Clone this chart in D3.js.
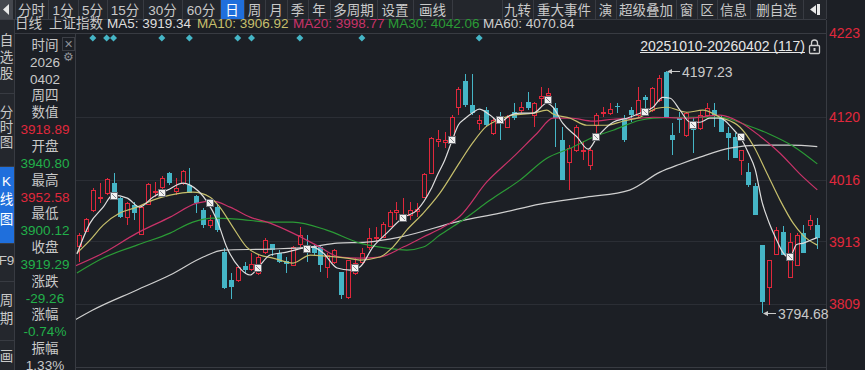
<!DOCTYPE html>
<html><head><meta charset="utf-8">
<script src="https://cdn.jsdelivr.net/npm/d3@7"></script>
<style>
html,body{margin:0;padding:0;background:#1c1f25;overflow:hidden;}
svg{display:block;}
text{font-family:"Liberation Sans","Noto Sans CJK SC",sans-serif;}
</style></head><body>
<svg id="c" width="865" height="370"></svg>
<script>
// ---------------- DATA ----------------
const opens = [3905.3,3930.3,3965.1,3986.0,3993.4,4010.0,3985.1,3953.5,3973.5,3925.3,
3975.1,3996.0,4003.3,4026.6,3996.7,4010.0,4006.7,3988.4,3965.1,3940.2,
3970.1,3895.4,3848.9,3848.9,3872.1,3867.1,3860.5,3895.4,3908.7,3893.7,
3880.4,3873.8,3908.7,3907.0,3903.7,3903.7,3870.5,3878.8,3862.2,3820.6,
3860.5,3878.8,3903.7,3919.5,3920.3,3938.6,3961.8,3951.9,3956.8,3963.5,
3986.7,4026.6,4079.8,4078.1,4081.4,4136.2,4179.4,4139.6,4109.7,4131.3,
4093.0,4116.3,4103.0,4127.9,4131.3,4144.5,4123.0,4151.2,4156.2,4134.6,
4081.4,4044.9,4064.8,4063.0,4039.9,4106.3,4127.5,4126.3,4137.9,4118.0,
4131.3,4123.0,4152.8,4131.3,4147.9,4194.4,4089.7,4118.0,4089.7,4111.3,
4101.4,4123.0,4131.3,4118.0,4093.0,4086.4,4048.2,4028.3,4005.0,3907.0,
3837.2,3892.1,3928.6,3853.9,3873.8,3926.9,3940.2,3940.80];
const highs = [3926.9,3951.9,4001.7,4010.0,4018.3,4026.6,3986.7,3978.4,3978.4,3973.5,
4010.0,4011.7,4021.6,4028.3,4018.3,4031.6,4034.9,3990.1,3968.5,3956.8,
3973.5,3902.0,3860.5,3872.1,3878.8,3893.7,3890.4,3918.6,3908.7,3898.7,
3887.1,3905.3,3936.9,3923.6,3907.0,3905.3,3893.7,3900.4,3862.2,3882.1,
3885.4,3902.0,3935.2,3936.9,3945.2,3965.1,3978.4,3985.1,3978.4,3976.8,
4026.6,4086.4,4098.0,4094.7,4123.0,4169.5,4191.1,4191.1,4123.0,4136.2,
4118.0,4127.9,4123.0,4142.9,4144.5,4161.2,4144.5,4169.5,4167.8,4142.9,
4103.0,4073.1,4106.3,4079.8,4069.8,4126.3,4136.2,4142.9,4142.9,4123.0,
4136.2,4169.5,4156.2,4169.5,4189.4,4197.23,4109.7,4127.9,4127.9,4119.6,
4131.3,4142.9,4142.9,4123.0,4103.0,4093.0,4064.8,4043.2,4010.0,3907.0,
3882.1,3936.9,3938.6,3926.9,3926.9,3940.2,3956.8,3952.58];
const lows = [3878.8,3928.6,3961.8,3976.8,3990.1,3981.8,3951.9,3940.2,3948.5,3923.6,
3973.5,3986.7,3998.4,4006.7,3990.1,4006.7,3993.4,3960.2,3935.2,3935.2,
3928.6,3833.9,3817.3,3845.5,3860.5,3863.8,3857.2,3892.1,3888.7,3877.1,
3860.5,3872.1,3903.7,3878.8,3890.4,3862.2,3852.2,3875.4,3817.3,3817.3,
3857.2,3873.8,3898.7,3912.0,3918.6,3936.9,3948.5,3945.2,3948.5,3953.5,
3985.1,4024.9,4069.8,4068.1,4078.1,4123.0,4136.2,4123.0,4098.0,4103.0,
4089.7,4081.4,4101.4,4114.6,4126.3,4131.3,4103.0,4136.2,4154.5,4069.8,
4015.0,3998.4,4061.0,4048.2,4031.6,4084.0,4119.6,4123.0,4126.3,4078.1,
4111.3,4119.6,4127.9,4127.9,4144.5,4118.0,4056.5,4093.0,4086.4,4059.8,
4098.0,4119.6,4103.0,4094.7,4048.2,4051.5,4023.3,4003.3,3956.8,3794.68,
3807.3,3890.4,3890.4,3852.2,3873.8,3893.7,3931.9,3900.12];
const closes = [3923.6,3950.2,3998.4,3987.0,4016.6,3985.1,3953.5,3976.8,3960.2,3970.1,
4008.3,3997.0,4018.3,4010.0,4001.7,4029.9,3993.4,3976.8,3940.2,3948.5,
3931.9,3835.6,3837.2,3870.5,3865.5,3875.4,3887.1,3915.3,3898.7,3878.8,
3875.4,3903.7,3923.6,3898.7,3893.7,3873.8,3890.4,3898.7,3824.0,3882.1,
3877.1,3893.7,3918.6,3920.3,3941.9,3961.8,3965.1,3956.8,3965.1,3966.8,
4024.9,4084.7,4083.1,4081.4,4119.6,4166.1,4139.6,4126.3,4114.6,4106.3,
4114.6,4111.3,4119.6,4118.0,4136.2,4134.6,4142.9,4154.5,4159.5,4118.0,
4015.0,4068.1,4103.0,4065.0,4064.8,4123.0,4128.5,4132.9,4136.2,4081.4,
4123.0,4147.9,4147.9,4167.8,4184.4,4118.0,4081.4,4114.6,4126.3,4098.0,
4123.0,4134.6,4123.0,4094.7,4084.7,4051.5,4064.8,4006.7,3956.8,3812.3,
3882.1,3931.9,3890.4,3912.0,3923.6,3893.7,3948.5,3919.29];

// moving averages: [bar index, value]
const ma5 = [[-0.3,3892.1],[1.6,3943.5],[3.5,3970.1],[4.9,3990.1],[7.0,3985.1],[8.8,3970.1],[10.7,3986.7],[12.8,3998.4],[15.1,4010.0],[16.1,4006.7],[18.6,3978.4],[20.0,3948.5],[21.4,3903.7],[23.3,3868.8],[24.8,3857.2],[25.9,3868.8],[27.7,3890.4],[30.1,3895.4],[32.5,3902.0],[33.9,3903.7],[35.4,3893.7],[37.4,3868.8],[39.3,3865.5],[40.7,3870.5],[42.6,3903.7],[44.6,3926.9],[46.9,3951.9],[49.0,3965.1],[51.0,3999.7],[52.0,4024.9],[53.0,4048.2],[54.0,4078.7],[55.0,4107.0],[56.0,4118.0],[57.0,4126.6],[58.0,4133.0],[59.6,4123.0],[61.0,4111.3],[62.5,4123.0],[63.9,4126.3],[65.8,4126.3],[67.8,4142.9],[68.7,4136.2],[70.1,4109.7],[72.2,4086.4],[73.8,4066.5],[75.1,4086.4],[77.4,4111.3],[79.4,4118.0],[81.3,4126.3],[83.2,4136.2],[84.6,4152.8],[85.7,4151.2],[87.1,4131.3],[88.6,4111.3],[90.0,4111.3],[91.4,4118.0],[92.9,4118.0],[94.8,4099.7],[96.0,4083.0],[97.0,4060.5],[98.0,4032.9],[99.0,3978.4],[100.0,3944.5],[101.0,3918.0],[102.0,3894.7],[103.0,3885.7],[104.0,3908.0],[105.0,3910.3],[106.0,3915.0],[107,3919.34]];
const ma10 = [[-0.3,3893.7],[1.6,3915.3],[3.5,3940.2],[5.9,3960.2],[8.4,3970.1],[10.7,3981.8],[13.2,3990.1],[16.5,3995.0],[19.0,3986.7],[20.4,3970.1],[22.3,3936.9],[24.3,3903.7],[26.2,3890.4],[28.1,3885.4],[31.0,3877.1],[33.5,3890.4],[35.9,3888.7],[38.8,3885.4],[40.7,3882.1],[43.6,3887.1],[45.5,3903.7],[47.5,3931.9],[49.9,3960.2],[52.3,3993.4],[55.2,4045.0],[57.0,4076.0],[59.0,4104.0],[60.6,4114.6],[62.9,4123.0],[65.8,4126.3],[67.8,4131.3],[68.7,4125.0],[71.2,4118.0],[73.6,4106.3],[76.5,4106.3],[78.8,4113.0],[81.3,4119.6],[83.8,4134.6],[85.2,4136.2],[88.1,4127.9],[90.4,4131.3],[92.9,4119.6],[95.8,4103.0],[97.7,4073.1],[99.7,4026.6],[101.6,3981.8],[103.5,3943.5],[104.9,3923.6],[107,3906.92]];
const ma20 = [[-0.6,3872.1],[3.5,3893.7],[8.4,3926.9],[13.2,3953.5],[17.1,3976.8],[19.4,3980.1],[21.9,3970.1],[24.8,3953.5],[27.7,3943.5],[31.0,3926.9],[34.9,3903.7],[37.8,3887.1],[40.7,3885.4],[43.6,3887.1],[47.0,3903.7],[49.9,3920.3],[52.8,3936.9],[55.2,3955.0],[59.1,4012.0],[62.9,4053.2],[66.4,4093.0],[68.7,4118.0],[71.2,4118.0],[74.5,4113.0],[77.4,4116.3],[81.3,4118.0],[83.2,4119.6],[88.1,4118.0],[92.9,4123.0],[95.8,4111.3],[98.7,4088.1],[101.6,4059.8],[104.5,4025.0],[107,3998.77]];
const ma30 = [[-0.3,3860.5],[3.5,3885.4],[8.4,3907.0],[13.2,3926.9],[16.5,3945.2],[19.4,3951.9],[22.9,3950.2],[27.7,3945.2],[31.0,3945.2],[35.9,3931.9],[40.7,3910.3],[44.6,3902.0],[47.5,3898.7],[49.9,3903.7],[52.3,3923.6],[55.2,3945.2],[59.6,3981.8],[63.9,4015.0],[67.8,4051.5],[71.2,4068.1],[74.5,4086.4],[77.4,4098.0],[81.3,4114.6],[83.2,4118.0],[88.1,4119.6],[92.9,4119.6],[96.8,4106.3],[100.1,4091.4],[103.5,4071.5],[107,4042.06]];
const ma60 = [[-0.6,3782.4],[2.0,3799.0],[8.4,3832.3],[13.2,3857.2],[18.0,3887.1],[20.9,3898.7],[27.7,3900.4],[33.5,3903.7],[37.4,3910.3],[41.7,3912.0],[46.5,3920.3],[55.2,3946.9],[61.0,3960.0],[66.8,3975.1],[73.5,3986.7],[79.8,3998.4],[84.2,4028.3],[87.1,4041.5],[90.0,4053.2],[94.3,4068.1],[98.7,4073.1],[103.0,4073.1],[107,4070.84]];

const markerIdx = [5,12,19,26,33,40,47,54,61,68,75,82,89,96,103];
const markerVal = [3988.4,3993.4,3976.8,3868.8,3900.4,3868.8,3951.9,4081.4,4114.6,4147.9,4086.4,4127.9,4106.3,4086.4,3887.1];
const diamondIdx = [2,4,5,12,16,23,25,32,41,58];

const yTicks = [3809,3913,4016,4120];
const yTopLabel = 4223;

const maNames = ["MA5","MA10","MA20","MA30","MA60"];
const maLast = [3919.34,3906.92,3998.77,4042.06,4070.84];

const infoLabels = ["时间","2026","0402","周四","数值","3918.89","开盘","3940.80","最高","3952.58","最低","3900.12","收盘","3919.29","涨跌","-29.26","涨幅","-0.74%","振幅","1.33%"];
const infoKind =   ["l","l","l","l","l","up","l","dn","l","up","l","dn","l","dn","l","dn","l","dn","l","l"];

const tabs1 = ["分时","1分","5分","15分","30分","60分","日","周","月","季","年","多周期","设置","画线"];
const tabs2 = ["九转","重大事件","演","超级叠加","窗","区","信息","删自选"];
const sideItems = ["自选股","分时图","K线图","F9","周期","画"];
const rangeText = "20251010-20260402 (117)";

// ---------------- LAYOUT / STYLE ----------------
const W=865,H=370;
const BG="#1c1f25", BAR="#23262c", SEP="#383b42", GRID="#2b2e35";
const RED="#e0283c", CYAN="#45b5c6", GREEN="#22b04a", TXT="#c9c9c9";
const maColors=["#dedede","#c6bf6c","#c93369","#2b9b36","#cfcfcf"];
const tabEdges1=[15,48,78,107,143,182,220,244,265,287,308,330,377,413,452];
const tabEdges2=[502,533,595,616,676,697,717,750,803,826];
const PL=75, PR=826, PT=33, PB=367;

const svg=d3.select("#c");
svg.append("rect").attr("width",W).attr("height",H).attr("fill",BG);

const x=d3.scaleLinear().domain([0,closes.length-1]).range([79,817.3]);
const y=d3.scaleLinear().domain([3809,4120]).range([304,117]);

// grid
const grid=svg.append("g");
yTicks.forEach(v=>{
  const yy=Math.round(y(v))+0.5;
  grid.append("line").attr("x1",PL).attr("x2",PR).attr("y1",yy).attr("y2",yy).attr("stroke",GRID).attr("stroke-width",1);
});
grid.append("line").attr("x1",14).attr("x2",PR).attr("y1",PT+0.5).attr("y2",PT+0.5).attr("stroke",SEP);
grid.append("line").attr("x1",PL).attr("x2",PR).attr("y1",PB+0.5).attr("y2",PB+0.5).attr("stroke",SEP);
grid.append("line").attr("x1",PR+0.5).attr("x2",PR+0.5).attr("y1",20).attr("y2",H).attr("stroke",SEP);

// clip
svg.append("defs").append("clipPath").attr("id","clp").append("rect")
  .attr("x",PL+1).attr("y",PT+1).attr("width",PR-PL-1).attr("height",PB-PT-1);
const plot=svg.append("g").attr("clip-path","url(#clp)");

// candles
const cg=plot.append("g");
closes.forEach((c,i)=>{
  const o=opens[i],h=highs[i],l=lows[i];
  const cx=Math.round(x(i));
  const up=c>=o;
  const t=Math.round(y(Math.max(o,c))), b=Math.round(y(Math.min(o,c)));
  const yh=Math.round(y(h)), yl=Math.round(y(l));
  if(up){
    if(yh<t) cg.append("line").attr("x1",cx+0.5).attr("x2",cx+0.5).attr("y1",yh).attr("y2",t).attr("stroke",RED);
    if(yl>b) cg.append("line").attr("x1",cx+0.5).attr("x2",cx+0.5).attr("y1",b).attr("y2",yl).attr("stroke",RED);
    cg.append("rect").attr("x",cx-1.5).attr("y",t+0.5).attr("width",4).attr("height",Math.max(1,b-t))
      .attr("fill",BG).attr("stroke",RED).attr("stroke-width",1);
  } else {
    cg.append("line").attr("x1",cx+0.5).attr("x2",cx+0.5).attr("y1",yh).attr("y2",yl).attr("stroke",CYAN);
    cg.append("rect").attr("x",cx-2).attr("y",t).attr("width",5).attr("height",Math.max(1,b-t)).attr("fill",CYAN);
  }
});

// MA lines
const lineGen=d3.line().x(d=>x(d[0])).y(d=>y(d[1])).curve(d3.curveMonotoneX);
[ma60,ma30,ma20,ma10,ma5].forEach((arr,k)=>{
  const col=[maColors[4],maColors[3],maColors[2],maColors[1],maColors[0]][k];
  plot.append("path").attr("d",lineGen(arr)).attr("fill","none").attr("stroke",col).attr("stroke-width",1.2);
});

// markers on MA5
markerIdx.forEach((mi,k)=>{
  const mx=Math.round(x(mi)), my=Math.round(y(markerVal[k]));
  plot.append("rect").attr("x",mx-3.5).attr("y",my-3.5).attr("width",7).attr("height",7)
    .attr("fill","#f2f2f2").attr("stroke","#6a6d73").attr("stroke-width",1);
  plot.append("line").attr("x1",mx-2).attr("y1",my-2).attr("x2",mx+2).attr("y2",my+2).attr("stroke","#8a8d93").attr("stroke-width",1);
});

// diamonds
diamondIdx.forEach(di=>{
  const dx=x(di), dy=38;
  svg.append("path").attr("d",`M${dx},${dy-3.5}L${dx+3.5},${dy}L${dx},${dy+3.5}L${dx-3.5},${dy}Z`).attr("fill",CYAN);
});

// high / low annotations
const hiI=d3.maxIndex(highs), loI=d3.minIndex(lows);
function annot(i,v){
  const ax=Math.round(x(i))+1, ay=Math.round(y(v))+0.5;
  svg.append("line").attr("x1",ax+1).attr("x2",ax+13).attr("y1",ay).attr("y2",ay).attr("stroke",TXT);
  svg.append("path").attr("d",`M${ax},${ay}L${ax+5},${ay-2.5}L${ax+5},${ay+2.5}Z`).attr("fill",TXT);
  svg.append("text").attr("x",ax+15).attr("y",ay).attr("dy","0.36em").attr("fill",TXT)
    .attr("font-size",14).text(v.toFixed(2));
}
annot(hiI,highs[hiI]);
annot(loI,lows[loI]);

// range header
svg.append("text").attr("x",805).attr("y",46).attr("dy","0.35em").attr("text-anchor","end")
  .attr("fill","#e6e6e6").attr("font-size",14).text(rangeText);
svg.append("line").attr("x1",640).attr("x2",805).attr("y1",52.5).attr("y2",52.5).attr("stroke","#e6e6e6");
// lock icon
svg.append("rect").attr("x",809.5).attr("y",45.5).attr("width",10).attr("height",8).attr("rx",1).attr("fill","none").attr("stroke","#cfcfcf").attr("stroke-width",1.3);
svg.append("path").attr("d","M811.5,45.5 V43 a3,3 0 0 1 6,0 V45.5").attr("fill","none").attr("stroke","#cfcfcf").attr("stroke-width",1.3);
svg.append("rect").attr("x",813.5).attr("y",48).attr("width",2).attr("height",3).attr("fill","#cfcfcf");

// right axis labels
yTicks.forEach(v=>{
  svg.append("text").attr("x",829).attr("y",y(v)).attr("dy","0.36em").attr("fill",RED).attr("font-size",14).text(v);
});
svg.append("text").attr("x",829).attr("y",PT).attr("dy","0.36em").attr("fill",RED).attr("font-size",14).text(yTopLabel);

// ---------------- OVERLAYS ----------------
// top toolbar
svg.append("rect").attr("x",0).attr("y",0).attr("width",PR).attr("height",19.5).attr("fill",BAR);
svg.append("line").attr("x1",0).attr("x2",PR).attr("y1",19.5).attr("y2",19.5).attr("stroke",SEP);
svg.append("rect").attr("x",0).attr("y",0).attr("width",13).attr("height",19.5).attr("fill","#44474e");
svg.append("path").attr("d","M3,9.5L9,4L9,15Z").attr("fill","#e8e8e8");
function drawTabs(labels,edges){
  edges.forEach(e=>svg.append("line").attr("x1",e+0.5).attr("x2",e+0.5).attr("y1",0).attr("y2",19).attr("stroke",SEP));
  labels.forEach((t,k)=>{
    const a=edges[k], b=edges[k+1];
    const sel=(t==="日");
    if(sel) svg.append("rect").attr("x",a+1).attr("y",0).attr("width",b-a-1).attr("height",19).attr("fill","#1f6fdc");
    svg.append("text").attr("x",(a+b)/2).attr("y",14.5).attr("text-anchor","middle")
      .attr("fill",sel?"#ffffff":TXT).attr("font-size",13.5).text(t);
  });
}
drawTabs(tabs1,tabEdges1);
drawTabs(tabs2,tabEdges2);
// icon at right end of toolbar
svg.append("path").attr("d","M810,9.5L816,5L816,14Z").attr("fill","#e8e8e8");
svg.append("rect").attr("x",817).attr("y",4).attr("width",3).attr("height",11).attr("fill","#e8e8e8");
svg.append("rect").attr("x",PR+1).attr("y",0).attr("width",W-PR-1).attr("height",20).attr("fill",BG);

// legend row
const lg=svg.append("g");
lg.append("text").attr("x",15).attr("y",28).attr("fill",TXT).attr("font-size",13.5).text("日线");
lg.append("text").attr("x",49).attr("y",28).attr("fill",TXT).attr("font-size",13.5).text("上证指数");
const legX=[107,197,293,388,483];
maNames.forEach((n,k)=>{
  lg.append("text").attr("x",legX[k]).attr("y",28).attr("fill",maColors[k]).attr("font-size",13.5)
    .text(n+": "+maLast[k].toFixed(2));
});

// left side bar
svg.append("rect").attr("x",0).attr("y",20).attr("width",14).attr("height",H-20).attr("fill","#24272d");
svg.append("line").attr("x1",14.5).attr("x2",14.5).attr("y1",20).attr("y2",H).attr("stroke",SEP);
const sideCells=[[20,93],[93,160],[166,243],[243,281],[281,340],[340,370]];
const sideCharY=[[40,57,73],[112,127,142],[181,199,219],[260],[300,318],[356]];
sideItems.forEach((s,k)=>{
  const [a,b]=sideCells[k];
  if(k===2) svg.append("rect").attr("x",0).attr("y",a).attr("width",14).attr("height",b-a).attr("fill","#1f6fdc");
  if(k>0) svg.append("line").attr("x1",0).attr("x2",14).attr("y1",a+0.5).attr("y2",a+0.5).attr("stroke",SEP);
  const chars = (s==="F9")?["F9"]:Array.from(s);
  chars.forEach((ch,j)=>{
    svg.append("text").attr("x",6.5).attr("y",sideCharY[k][j]).attr("dy","0.36em").attr("text-anchor","middle")
      .attr("fill",k===2?"#ffffff":TXT).attr("font-size",13.5).text(ch);
  });
});

// info panel
svg.append("rect").attr("x",15).attr("y",34).attr("width",60).attr("height",H-34).attr("fill",BG);
svg.append("line").attr("x1",PL+0.5).attr("x2",PL+0.5).attr("y1",PT).attr("y2",H).attr("stroke",SEP);
infoLabels.forEach((t,k)=>{
  const col = infoKind[k]==="up"?RED:(infoKind[k]==="dn"?GREEN:TXT);
  svg.append("text").attr("x",45).attr("y",45+16.85*k).attr("dy","0.36em").attr("text-anchor","middle")
    .attr("fill",col).attr("font-size",13.5).text(t);
});
// close / settings icons
svg.append("rect").attr("x",62.5).attr("y",37.5).attr("width",12).attr("height",13).attr("fill","none").attr("stroke","#3c3f46");
svg.append("text").attr("x",68.5).attr("y",44).attr("dy","0.36em").attr("text-anchor","middle").attr("fill","#8e9197")
  .attr("font-size",11).style("font-family","DejaVu Sans").text("✕");
svg.append("text").attr("x",68.5).attr("y",57).attr("dy","0.36em").attr("text-anchor","middle").attr("fill","#8e9197")
  .attr("font-size",12).style("font-family","DejaVu Sans").text("⚙");
</script>
</body></html>
